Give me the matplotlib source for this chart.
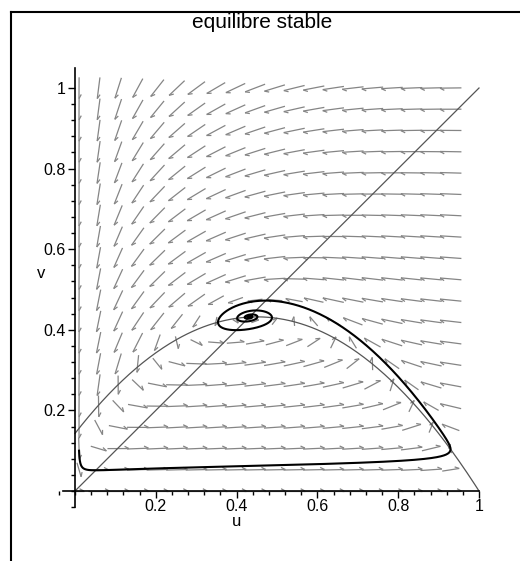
import numpy as np
import matplotlib
matplotlib.use('Agg')
import matplotlib.pyplot as plt
from matplotlib.collections import LineCollection
from matplotlib.lines import Line2D

a = 0.7
d = 0.1
b = 0.1

# condition initiale de la trajectoire
u_start = 0.01
v_start = 0.1
t_end = 150.0

# grille du champ de directions
u_grid = np.linspace(0.01, 0.93, 20)
v_grid = np.linspace(0.0, 1.0, 20)

ticks = [0.2, 0.4, 0.6, 0.8, 1]
tick_labels = ['0.2', '0.4', '0.6', '0.8', '1']
titre = 'equilibre stable'

plt.rcParams['font.family'] = ['Liberation Sans', 'DejaVu Sans']


def champ(u, v):
    du = u * (1 - u) - a * u * v / (u + d)
    dv = b * v * (1 - v / u)
    return du, dv


def rk4(u0, v0, dt, n):
    pts = np.zeros((n + 1, 2))
    pts[0] = u0, v0
    u, v = u0, v0
    for i in range(n):
        k1 = champ(u, v)
        k2 = champ(u + dt / 2 * k1[0], v + dt / 2 * k1[1])
        k3 = champ(u + dt / 2 * k2[0], v + dt / 2 * k2[1])
        k4 = champ(u + dt * k3[0], v + dt * k3[1])
        u = u + dt / 6 * (k1[0] + 2 * k2[0] + 2 * k3[0] + k4[0])
        v = v + dt / 6 * (k1[1] + 2 * k2[1] + 2 * k3[1] + k4[1])
        pts[i + 1] = u, v
    return pts


fig = plt.figure(figsize=(5.2, 5.61), dpi=100)
# axes placees pour que u=0..1 -> x=75..479 px et v=0..1 -> y=491..88 px
ax = fig.add_axes([14.4 / 520, 9.55 / 561, 505 / 520, 511.8 / 561])
ax.set_xlim(-0.15, 1.1)
ax.set_ylim(-0.15, 1.12)

# champ de fleches
U, V = np.meshgrid(u_grid, v_grid)
DU, DV = champ(U, V)
mag = np.hypot(DU, DV)
L = 0.053 * np.minimum(1, (mag / 0.05) ** 0.5)
ex, ey = DU / mag, DV / mag
tx, ty = U - ex * L / 2, V - ey * L / 2
hx, hy = U + ex * L / 2, V + ey * L / 2
th = np.radians(28)
bl = 0.012
bx = hx + bl * (-ex * np.cos(th) - ey * np.sin(th))
by = hy + bl * (ex * np.sin(th) - ey * np.cos(th))
segs = []
for i in range(U.size):
    segs.append([(tx.flat[i], ty.flat[i]), (hx.flat[i], hy.flat[i])])
    segs.append([(hx.flat[i], hy.flat[i]), (bx.flat[i], by.flat[i])])
ax.add_collection(LineCollection(segs, colors='#858585', linewidths=0.9))

# isoclines
u_line = np.linspace(0, 1, 300)
ax.plot(u_line, u_line, color='#555555', lw=0.9)
ax.plot(u_line, (1 - u_line) * (u_line + d) / a, color='#555555', lw=0.9)

# trajectoire
dt = 0.01
traj = rk4(u_start, v_start, dt, int(t_end / dt))
ax.plot(traj[:, 0], traj[:, 1], color='black', lw=1.5)

# axes a la Maple
for s in ['top', 'right']:
    ax.spines[s].set_visible(False)
ax.spines['left'].set_position(('data', 0))
ax.spines['bottom'].set_position(('data', 0))
ax.spines['left'].set_bounds(-0.04, 1.05)
ax.spines['bottom'].set_bounds(-0.03, 1.0)
ax.spines['left'].set_linewidth(1.2)
ax.spines['bottom'].set_linewidth(1.2)
ax.set_xticks(ticks, tick_labels)
ax.set_yticks(ticks, tick_labels)
minor = [round(0.04 * k, 2) for k in range(-1, 26)]
ax.set_xticks([m for m in minor if m <= 1.0], minor=True)
ax.set_yticks([m for m in minor if m <= 1.04], minor=True)
ax.tick_params(which='major', direction='out', length=5, width=1, labelsize=11.5, pad=2)
ax.tick_params(axis='x', which='major', pad=0.5)
ax.tick_params(which='minor', direction='out', length=3, width=1)
ax.set_xlabel('u', fontsize=12)
ax.set_ylabel('v', fontsize=12, rotation=0)
ax.xaxis.set_label_coords(0.40, -0.057, transform=ax.transData)
ax.yaxis.set_label_coords(-0.085, 0.52, transform=ax.transData)

fig.text(262 / 520, 1 - 22 / 561, titre, ha='center', va='center', fontsize=15)

# cadre
fig.add_artist(Line2D([11 / 520, 11 / 520], [0, 1 - 12 / 561], color='black', lw=1.5))
fig.add_artist(Line2D([11 / 520, 1], [1 - 12 / 561, 1 - 12 / 561], color='black', lw=1.5))

fig.savefig('out.png', dpi=100)
